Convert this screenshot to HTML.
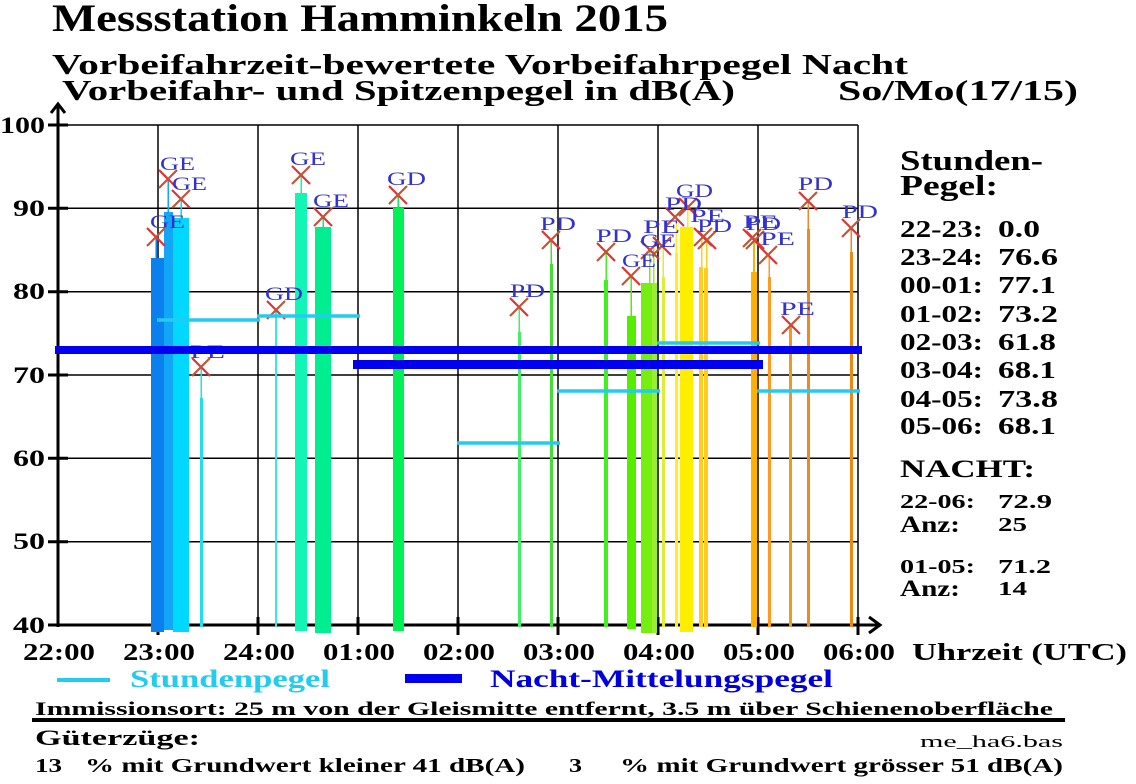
<!DOCTYPE html>
<html><head><meta charset="utf-8"><style>
html,body{margin:0;padding:0;background:#fff;}
svg{display:block;}
text{font-family:"Liberation Serif",serif;font-weight:bold;}
.lb{fill:#3333cc;font-weight:normal;font-size:19px;}
</style></head><body>
<svg width="1136" height="784" viewBox="0 0 1136 784" xmlns="http://www.w3.org/2000/svg">
<rect width="1136" height="784" fill="#fff"/>
<!-- Titles -->
<text x="52" y="31" font-size="39" textLength="616" lengthAdjust="spacingAndGlyphs">Messstation Hamminkeln 2015</text>
<text x="52" y="74" font-size="28" textLength="856" lengthAdjust="spacingAndGlyphs">Vorbeifahrzeit-bewertete Vorbeifahrpegel Nacht</text>
<text x="62" y="100" font-size="28" textLength="673" lengthAdjust="spacingAndGlyphs">Vorbeifahr- und Spitzenpegel in dB(A)</text>
<text x="838" y="100" font-size="28" textLength="240" lengthAdjust="spacingAndGlyphs">So/Mo(17/15)</text>

<!-- Grid -->
<g stroke="#000" stroke-width="1.5">
<line x1="158" y1="125" x2="158" y2="625"/><line x1="258" y1="125" x2="258" y2="625"/>
<line x1="358" y1="125" x2="358" y2="625"/><line x1="458" y1="125" x2="458" y2="625"/>
<line x1="558" y1="125" x2="558" y2="625"/><line x1="658" y1="125" x2="658" y2="625"/>
<line x1="758" y1="125" x2="758" y2="625"/><line x1="858" y1="125" x2="858" y2="625"/>
<line x1="58" y1="125" x2="858" y2="125"/><line x1="58" y1="208.3" x2="858" y2="208.3"/>
<line x1="58" y1="291.7" x2="858" y2="291.7"/><line x1="58" y1="375" x2="858" y2="375"/>
<line x1="58" y1="458.3" x2="858" y2="458.3"/><line x1="58" y1="541.7" x2="858" y2="541.7"/>
</g>
<!-- Axes -->
<g stroke="#000" stroke-width="3" fill="none">
<line x1="58" y1="105" x2="58" y2="627"/>
<polyline points="51,113 58,104 65,113"/>
<line x1="56" y1="625" x2="880" y2="625"/>
<polyline points="869,617 880,625 869,633"/>
<line x1="48" y1="125" x2="68" y2="125"/><line x1="48" y1="208.3" x2="68" y2="208.3"/>
<line x1="48" y1="291.7" x2="68" y2="291.7"/><line x1="48" y1="375" x2="68" y2="375"/>
<line x1="48" y1="458.3" x2="68" y2="458.3"/><line x1="48" y1="541.7" x2="68" y2="541.7"/>
<line x1="48" y1="625" x2="68" y2="625"/>
<line x1="158" y1="617" x2="158" y2="635"/><line x1="258" y1="617" x2="258" y2="635"/>
<line x1="358" y1="617" x2="358" y2="635"/><line x1="458" y1="617" x2="458" y2="635"/>
<line x1="558" y1="617" x2="558" y2="635"/><line x1="658" y1="617" x2="658" y2="635"/>
<line x1="758" y1="617" x2="758" y2="635"/><line x1="858" y1="617" x2="858" y2="635"/>
</g>
<!-- Y labels -->
<g font-size="23">
<text x="0" y="133" textLength="45" lengthAdjust="spacingAndGlyphs">100</text>
<text x="13" y="216" textLength="32" lengthAdjust="spacingAndGlyphs">90</text>
<text x="13" y="299" textLength="32" lengthAdjust="spacingAndGlyphs">80</text>
<text x="13" y="383" textLength="32" lengthAdjust="spacingAndGlyphs">70</text>
<text x="13" y="466" textLength="32" lengthAdjust="spacingAndGlyphs">60</text>
<text x="13" y="549" textLength="32" lengthAdjust="spacingAndGlyphs">50</text>
<text x="13" y="633" textLength="32" lengthAdjust="spacingAndGlyphs">40</text>
</g>
<!-- X labels -->
<g font-size="24">
<text x="23" y="660" textLength="72" lengthAdjust="spacingAndGlyphs">22:00</text>
<text x="123" y="660" textLength="72" lengthAdjust="spacingAndGlyphs">23:00</text>
<text x="223" y="660" textLength="72" lengthAdjust="spacingAndGlyphs">24:00</text>
<text x="323" y="660" textLength="72" lengthAdjust="spacingAndGlyphs">01:00</text>
<text x="423" y="660" textLength="72" lengthAdjust="spacingAndGlyphs">02:00</text>
<text x="523" y="660" textLength="72" lengthAdjust="spacingAndGlyphs">03:00</text>
<text x="623" y="660" textLength="72" lengthAdjust="spacingAndGlyphs">04:00</text>
<text x="723" y="660" textLength="72" lengthAdjust="spacingAndGlyphs">05:00</text>
<text x="823" y="660" textLength="72" lengthAdjust="spacingAndGlyphs">06:00</text>
<text x="912" y="660" textLength="215" lengthAdjust="spacingAndGlyphs">Uhrzeit (UTC)</text>
</g>

<!-- Bars -->
<g>
<rect x="151" y="258" width="13" height="374" fill="#0a80ee"/><rect x="155.5" y="237" width="1.5" height="21" fill="#0a80ee"/>
<rect x="164" y="212" width="9" height="418" fill="#12a6f6"/><rect x="167.5" y="179" width="1.5" height="33" fill="#12a6f6"/>
<rect x="173" y="218" width="16" height="414" fill="#00d8ff"/><rect x="180.5" y="199" width="1.5" height="19" fill="#00d8ff"/>
<rect x="200" y="398" width="3" height="229" fill="#22ddf0"/><rect x="200.5" y="367" width="1.5" height="31" fill="#22ddf0"/>
<rect x="275" y="310" width="2" height="317" fill="#33e8e8"/>
<rect x="295" y="193" width="12" height="438" fill="#11f5b5"/><rect x="300.5" y="175" width="1.5" height="18" fill="#11f5b5"/>
<rect x="315" y="227" width="16" height="406" fill="#00ee90"/><rect x="322.5" y="217" width="1.5" height="10" fill="#00ee90"/>
<rect x="393" y="208" width="11" height="423" fill="#00f055"/><rect x="397.5" y="195" width="1.5" height="13" fill="#00f055"/>
<rect x="518" y="332" width="3" height="295" fill="#44ee66"/><rect x="518.5" y="307" width="1.5" height="25" fill="#44ee66"/>
<rect x="550" y="264" width="3" height="363" fill="#44dd33"/><rect x="550.5" y="240" width="1.5" height="24" fill="#44dd33"/>
<rect x="604" y="280" width="4" height="347" fill="#44ee22"/><rect x="605.5" y="252" width="1.5" height="28" fill="#44ee22"/>
<rect x="627" y="316" width="9" height="313" fill="#55ee00"/><rect x="630.5" y="276" width="1.5" height="40" fill="#55ee00"/>
<rect x="641" y="283" width="12" height="350" fill="#77ee11"/><rect x="649" y="250" width="1.5" height="33" fill="#77ee11"/>
<rect x="652" y="283" width="5" height="350" fill="#99ee33"/><rect x="653" y="246" width="1.5" height="37" fill="#99ee33"/>
<rect x="662" y="277" width="3" height="350" fill="#ddee33"/><rect x="662.5" y="246" width="1.5" height="31" fill="#ddee33"/>
<rect x="675" y="253" width="3" height="374" fill="#ffee22"/><rect x="675.5" y="217" width="1.5" height="36" fill="#ffee22"/>
<rect x="680" y="227" width="13" height="405" fill="#ffee00"/><rect x="687" y="207" width="1.5" height="20" fill="#ffee00"/>
<rect x="699" y="267" width="4" height="360" fill="#ffcc22"/><rect x="701" y="237" width="1.5" height="30" fill="#ffcc22"/>
<rect x="704" y="268" width="4" height="359" fill="#ffcc22"/><rect x="706" y="240" width="1.5" height="28" fill="#ffcc22"/>
<rect x="751" y="272" width="6" height="355" fill="#ffb000"/><rect x="753" y="240" width="2" height="32" fill="#ffb000"/>
<rect x="768" y="277" width="3" height="350" fill="#ff9922"/><rect x="768.5" y="255" width="1.5" height="22" fill="#ff9922"/>
<rect x="789" y="325" width="3" height="302" fill="#ee9922"/>
<rect x="807" y="229" width="3" height="398" fill="#ee8822"/><rect x="807.5" y="201" width="1.5" height="28" fill="#ee8822"/>
<rect x="850" y="252" width="3" height="375" fill="#ee8811"/><rect x="850.5" y="228" width="1.5" height="24" fill="#ee8811"/>
</g>

<!-- Markers -->
<g stroke-width="2.2" fill="none">
<g stroke="#e03333">
<path d="M147,228 L165,246 M159,170 L177,188 M172,190 L190,208 M192,358 L210,376 M267,301 L285,319 M292,166 L310,184 M314,208 L332,226 M389,186 L407,204 M510,298 L528,316 M542,231 L560,249 M597,243 L615,261 M622,267 L640,285 M641,241 L659,259 M653,237 L671,255 M666,208 L684,226 M679,198 L697,216 M694,228 L712,246 M698,231 L716,249 M743,229 L761,247 M746,231 L764,249 M759,246 L777,264 M782,316 L800,334 M799,192 L817,210 M842,219 L860,237"/>
</g>
<g stroke="#c05538">
<path d="M147,246 L165,228 M159,188 L177,170 M172,208 L190,190 M192,376 L210,358 M267,319 L285,301 M292,184 L310,166 M314,226 L332,208 M389,204 L407,186 M510,316 L528,298 M542,249 L560,231 M597,261 L615,243 M622,285 L640,267 M641,259 L659,241 M653,255 L671,237 M666,226 L684,208 M679,216 L697,198 M694,246 L712,228 M698,249 L716,231 M743,247 L761,229 M746,249 L764,231 M759,264 L777,246 M782,334 L800,316 M799,210 L817,192 M842,237 L860,219"/>
</g>
</g>
<!-- Marker labels -->
<g class="lb">
<text class="lb" x="150" y="228" textLength="35" lengthAdjust="spacingAndGlyphs">GE</text>
<text class="lb" x="160" y="170" textLength="35" lengthAdjust="spacingAndGlyphs">GE</text>
<text class="lb" x="172" y="190" textLength="35" lengthAdjust="spacingAndGlyphs">GE</text>
<text class="lb" x="190" y="358" textLength="35" lengthAdjust="spacingAndGlyphs">PE</text>
<text class="lb" x="265" y="300" textLength="38" lengthAdjust="spacingAndGlyphs">GD</text>
<text class="lb" x="290" y="165" textLength="36" lengthAdjust="spacingAndGlyphs">GE</text>
<text class="lb" x="313" y="207" textLength="36" lengthAdjust="spacingAndGlyphs">GE</text>
<text class="lb" x="387" y="185" textLength="39" lengthAdjust="spacingAndGlyphs">GD</text>
<text class="lb" x="510" y="297" textLength="35" lengthAdjust="spacingAndGlyphs">PD</text>
<text class="lb" x="540" y="230" textLength="36" lengthAdjust="spacingAndGlyphs">PD</text>
<text class="lb" x="596" y="242" textLength="36" lengthAdjust="spacingAndGlyphs">PD</text>
<text class="lb" x="622" y="267" textLength="34" lengthAdjust="spacingAndGlyphs">GE</text>
<text class="lb" x="640" y="247" textLength="36" lengthAdjust="spacingAndGlyphs">GE</text>
<text class="lb" x="643" y="233" textLength="37" lengthAdjust="spacingAndGlyphs">PE</text>
<text class="lb" x="665" y="210" textLength="37" lengthAdjust="spacingAndGlyphs">PD</text>
<text class="lb" x="676" y="197" textLength="37" lengthAdjust="spacingAndGlyphs">GD</text>
<text class="lb" x="690" y="222" textLength="35" lengthAdjust="spacingAndGlyphs">PE</text>
<text class="lb" x="697" y="232" textLength="35" lengthAdjust="spacingAndGlyphs">PD</text>
<text class="lb" x="743" y="228" textLength="35" lengthAdjust="spacingAndGlyphs">PE</text>
<text class="lb" x="746" y="230" textLength="35" lengthAdjust="spacingAndGlyphs">PD</text>
<text class="lb" x="760" y="245" textLength="35" lengthAdjust="spacingAndGlyphs">PE</text>
<text class="lb" x="780" y="315" textLength="35" lengthAdjust="spacingAndGlyphs">PE</text>
<text class="lb" x="798" y="190" textLength="35" lengthAdjust="spacingAndGlyphs">PD</text>
<text class="lb" x="842" y="218" textLength="36" lengthAdjust="spacingAndGlyphs">PD</text>
</g>

<!-- Stundenpegel -->
<g stroke="#22ccee" stroke-width="3.5">
<line x1="157" y1="320" x2="260" y2="320"/>
<line x1="257" y1="316" x2="360" y2="316"/>
<line x1="357" y1="348" x2="460" y2="348"/>
<line x1="457" y1="443" x2="560" y2="443"/>
<line x1="557" y1="391" x2="660" y2="391"/>
<line x1="657" y1="343" x2="760" y2="343"/>
<line x1="757" y1="391" x2="860" y2="391"/>
</g>
<!-- Nacht-Mittelungspegel -->
<rect x="55" y="346" width="807" height="8" fill="#0000ee"/>
<rect x="353" y="360" width="410" height="9" fill="#0000ee"/>

<!-- Right panel -->
<text x="900" y="170" font-size="28" textLength="143" lengthAdjust="spacingAndGlyphs">Stunden-</text>
<text x="900" y="195" font-size="28" textLength="98" lengthAdjust="spacingAndGlyphs">Pegel:</text>
<g font-size="24">
<text x="900" y="237" textLength="83" lengthAdjust="spacingAndGlyphs">22-23:</text><text x="998" y="237" textLength="42" lengthAdjust="spacingAndGlyphs">0.0</text>
<text x="900" y="265" textLength="83" lengthAdjust="spacingAndGlyphs">23-24:</text><text x="998" y="265" textLength="60" lengthAdjust="spacingAndGlyphs">76.6</text>
<text x="900" y="293" textLength="83" lengthAdjust="spacingAndGlyphs">00-01:</text><text x="998" y="293" textLength="58" lengthAdjust="spacingAndGlyphs">77.1</text>
<text x="900" y="322" textLength="83" lengthAdjust="spacingAndGlyphs">01-02:</text><text x="998" y="322" textLength="60" lengthAdjust="spacingAndGlyphs">73.2</text>
<text x="900" y="350" textLength="83" lengthAdjust="spacingAndGlyphs">02-03:</text><text x="998" y="350" textLength="58" lengthAdjust="spacingAndGlyphs">61.8</text>
<text x="900" y="378" textLength="83" lengthAdjust="spacingAndGlyphs">03-04:</text><text x="998" y="378" textLength="58" lengthAdjust="spacingAndGlyphs">68.1</text>
<text x="900" y="407" textLength="83" lengthAdjust="spacingAndGlyphs">04-05:</text><text x="998" y="407" textLength="60" lengthAdjust="spacingAndGlyphs">73.8</text>
<text x="900" y="434" textLength="83" lengthAdjust="spacingAndGlyphs">05-06:</text><text x="998" y="434" textLength="58" lengthAdjust="spacingAndGlyphs">68.1</text>
</g>
<text x="900" y="477" font-size="25" textLength="135" lengthAdjust="spacingAndGlyphs">NACHT:</text>
<g font-size="20">
<text x="900" y="508" textLength="75" lengthAdjust="spacingAndGlyphs">22-06:</text><text x="998" y="508" textLength="54" lengthAdjust="spacingAndGlyphs">72.9</text>
<text x="998" y="531" textLength="29" lengthAdjust="spacingAndGlyphs">25</text>
<text x="900" y="573" textLength="75" lengthAdjust="spacingAndGlyphs">01-05:</text><text x="998" y="573" textLength="53" lengthAdjust="spacingAndGlyphs">71.2</text>
<text x="998" y="595" textLength="29" lengthAdjust="spacingAndGlyphs">14</text>
</g>
<text x="900" y="532" font-size="23" textLength="60" lengthAdjust="spacingAndGlyphs">Anz:</text>
<text x="900" y="596" font-size="23" textLength="60" lengthAdjust="spacingAndGlyphs">Anz:</text>

<!-- Legend -->
<line x1="57" y1="680" x2="110" y2="680" stroke="#22ccee" stroke-width="4"/>
<text x="130" y="687" font-size="25" fill="#22ccee" textLength="200" lengthAdjust="spacingAndGlyphs">Stundenpegel</text>
<rect x="405" y="674" width="57" height="9" fill="#0000ee"/>
<text x="490" y="687" font-size="25" fill="#0000dd" textLength="343" lengthAdjust="spacingAndGlyphs">Nacht-Mittelungspegel</text>

<!-- Bottom -->
<text x="35" y="715" font-size="19" textLength="1018" lengthAdjust="spacingAndGlyphs">Immissionsort: 25 m von der Gleismitte entfernt, 3.5 m über Schienenoberfläche</text>
<rect x="32" y="718" width="1033" height="4" fill="#000"/>
<text x="35" y="745" font-size="22" textLength="165" lengthAdjust="spacingAndGlyphs">Güterzüge:</text>
<text x="920" y="747" font-size="17" font-weight="normal" style="font-weight:normal" textLength="143" lengthAdjust="spacingAndGlyphs">me_ha6.bas</text>
<g font-size="20">
<text x="35" y="772" textLength="27" lengthAdjust="spacingAndGlyphs">13</text>
<text x="85" y="772" textLength="440" lengthAdjust="spacingAndGlyphs">% mit Grundwert kleiner 41 dB(A)</text>
<text x="569" y="772" textLength="13" lengthAdjust="spacingAndGlyphs">3</text>
<text x="620" y="772" textLength="443" lengthAdjust="spacingAndGlyphs">% mit Grundwert grösser 51 dB(A)</text>
</g>
</svg>
</body></html>
